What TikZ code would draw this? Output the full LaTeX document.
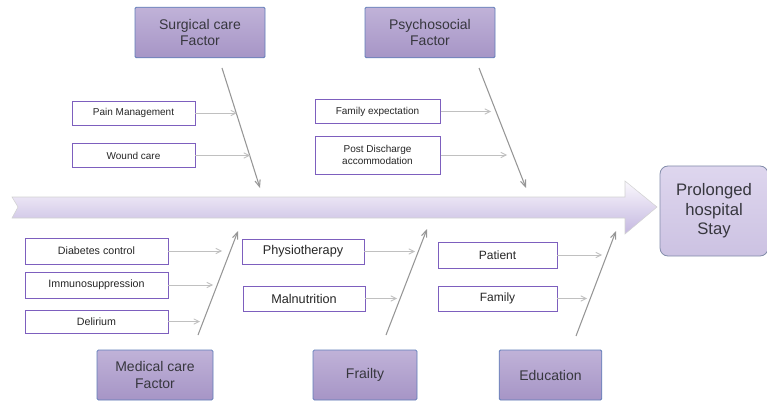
\documentclass[tikz,border=0pt]{standalone}
\usepackage{fontspec}
\setmainfont{Liberation Sans}
\usetikzlibrary{arrows.meta}

\definecolor{cattop}{RGB}{192,178,216}
\definecolor{catbot}{RGB}{166,149,198}
\definecolor{catline}{RGB}{95,125,185}
\definecolor{restop}{RGB}{222,214,238}
\definecolor{resbot}{RGB}{204,194,226}
\definecolor{resline}{RGB}{130,140,170}
\definecolor{causeline}{RGB}{125,95,190}
\definecolor{spinetop}{RGB}{250,248,253}
\definecolor{spinemid}{RGB}{208,197,231}
\definecolor{spinebot}{RGB}{196,183,224}
\definecolor{bonegray}{RGB}{150,150,150}
\definecolor{twiggray}{RGB}{192,192,192}
\definecolor{inkgray}{RGB}{55,55,62}

\tikzset{
  catbox/.style={draw=catline, line width=0.6pt, top color=cattop, bottom color=catbot,
    rounded corners=1pt, align=center, inner sep=0pt, text=inkgray,
    font=\fontsize{10.5}{12.5}\selectfont},
  causebox/.style={draw=causeline, line width=0.5pt, fill=white, align=center,
    inner sep=0pt, text=black!85},
  resbox/.style={draw=resline, line width=0.6pt, top color=restop, bottom color=resbot,
    rounded corners=6pt, align=center, inner sep=0pt, text=inkgray,
    font=\fontsize{12.5}{14.5}\selectfont},
  bone/.style={bonegray, line width=0.8pt, -{Straight Barb[length=5pt,width=4pt]}},
  twig/.style={twiggray, line width=0.6pt, -{Straight Barb[length=4pt,width=4pt]}},
}

\begin{document}
\begin{tikzpicture}[x=0.75pt, y=-0.75pt]
\useasboundingbox (0,0) rectangle (767,406);

% ================================================================
% Spine (big arrow) and effect box
% ================================================================
\node[resbox, minimum width=81pt, minimum height=67.5pt] (res) at (714,211)
  {Prolonged\\hospital\\Stay};
\shade[top color=spinetop, middle color=spinemid, bottom color=spinebot,
  draw=gray!35, line width=0.4pt]
  (12,197) -- (625,197) -- (625,181) -- (657,207) -- (625,234)
  -- (625,218) -- (12,218) -- (18,207) -- cycle;

% ================================================================
% Category boxes
% ================================================================
\node[catbox, minimum width=97.5pt, minimum height=38pt] (sur) at (200,32.5) {Surgical care\\Factor};
\node[catbox, minimum width=97.5pt, minimum height=38pt] (psy) at (430,32.5) {Psychosocial\\Factor};
\node[catbox, minimum width=87pt, minimum height=37.5pt] (med) at (155,375) {Medical care\\Factor};
\node[catbox, minimum width=78pt, minimum height=37.5pt] (fra) at (365,375) {Frailty};
\node[catbox, minimum width=77pt, minimum height=37.5pt] (edu) at (550.5,375) {Education};

% ================================================================
% Cause boxes -- top half
% ================================================================
\node[causebox, minimum width=92pt, minimum height=18pt, font=\fontsize{7.5}{9}\selectfont]
  (pain) at (133.5,113) {Pain Management};
\node[causebox, minimum width=92pt, minimum height=17.5pt, font=\fontsize{7.5}{9}\selectfont]
  (wound) at (133.5,155.5) {Wound care};
\node[causebox, minimum width=94pt, minimum height=17.5pt, font=\fontsize{7.5}{9}\selectfont]
  (famexp) at (377.5,111.5) {Family expectation};
\node[causebox, minimum width=94pt, minimum height=28.5pt, font=\fontsize{7.5}{9}\selectfont]
  (postd) at (377.5,155) {Post Discharge\\accommodation};

% ================================================================
% Cause boxes -- bottom half
% ================================================================
\node[causebox, minimum width=107pt, minimum height=19.5pt, font=\fontsize{8}{9.5}\selectfont]
  (diab) at (96.5,251) {Diabetes control};
\node[causebox, minimum width=107pt, minimum height=19.5pt, font=\fontsize{8}{9.5}\selectfont]
  (immuno) at (96.5,285) {Immunosuppression};
\node[causebox, minimum width=107pt, minimum height=17pt, font=\fontsize{8}{9.5}\selectfont]
  (deli) at (96.5,321.5) {Delirium};
\node[causebox, minimum width=91.5pt, minimum height=19pt, font=\fontsize{9.5}{11}\selectfont]
  (physio) at (303,251.5) {Physiotherapy};
\node[causebox, minimum width=91.5pt, minimum height=19pt, font=\fontsize{9.5}{11}\selectfont]
  (maln) at (304,298.5) {Malnutrition};
\node[causebox, minimum width=89pt, minimum height=19.5pt, font=\fontsize{9}{11}\selectfont]
  (patient) at (497.5,255) {Patient};
\node[causebox, minimum width=89pt, minimum height=19pt, font=\fontsize{9}{11}\selectfont]
  (family) at (497.5,298.5) {Family};

% ================================================================
% Bones: category -> spine
% ================================================================
\coordinate (surS) at (222,68);  \coordinate (surE) at (260,188);
\coordinate (psyS) at (479,68);  \coordinate (psyE) at (526,188);
\coordinate (medS) at (198,335); \coordinate (medE) at (238,231);
\coordinate (fraS) at (386,335); \coordinate (fraE) at (427,229);
\coordinate (eduS) at (576,336); \coordinate (eduE) at (616,231);
\foreach \bn in {sur, psy, med, fra, edu} {
  \draw[bone] (\bn S) -- (\bn E);
}

% ================================================================
% Twigs: cause -> bone
% ================================================================
\coordinate (painT)    at (237,113);
\coordinate (woundT)   at (250,155.5);
\coordinate (famexpT)  at (491,111.5);
\coordinate (postdT)   at (507,155);
\coordinate (diabT)    at (222,251);
\coordinate (immunoT)  at (213,285);
\coordinate (deliT)    at (200,321.5);
\coordinate (physioT)  at (415,251.5);
\coordinate (malnT)    at (397,298.5);
\coordinate (patientT) at (602,255);
\coordinate (familyT)  at (587,298.5);
\foreach \cs in {pain, wound, famexp, postd, diab, immuno, deli, physio, maln, patient, family} {
  \draw[twig] (\cs.east) -- (\cs T);
}

\end{tikzpicture}
\end{document}
